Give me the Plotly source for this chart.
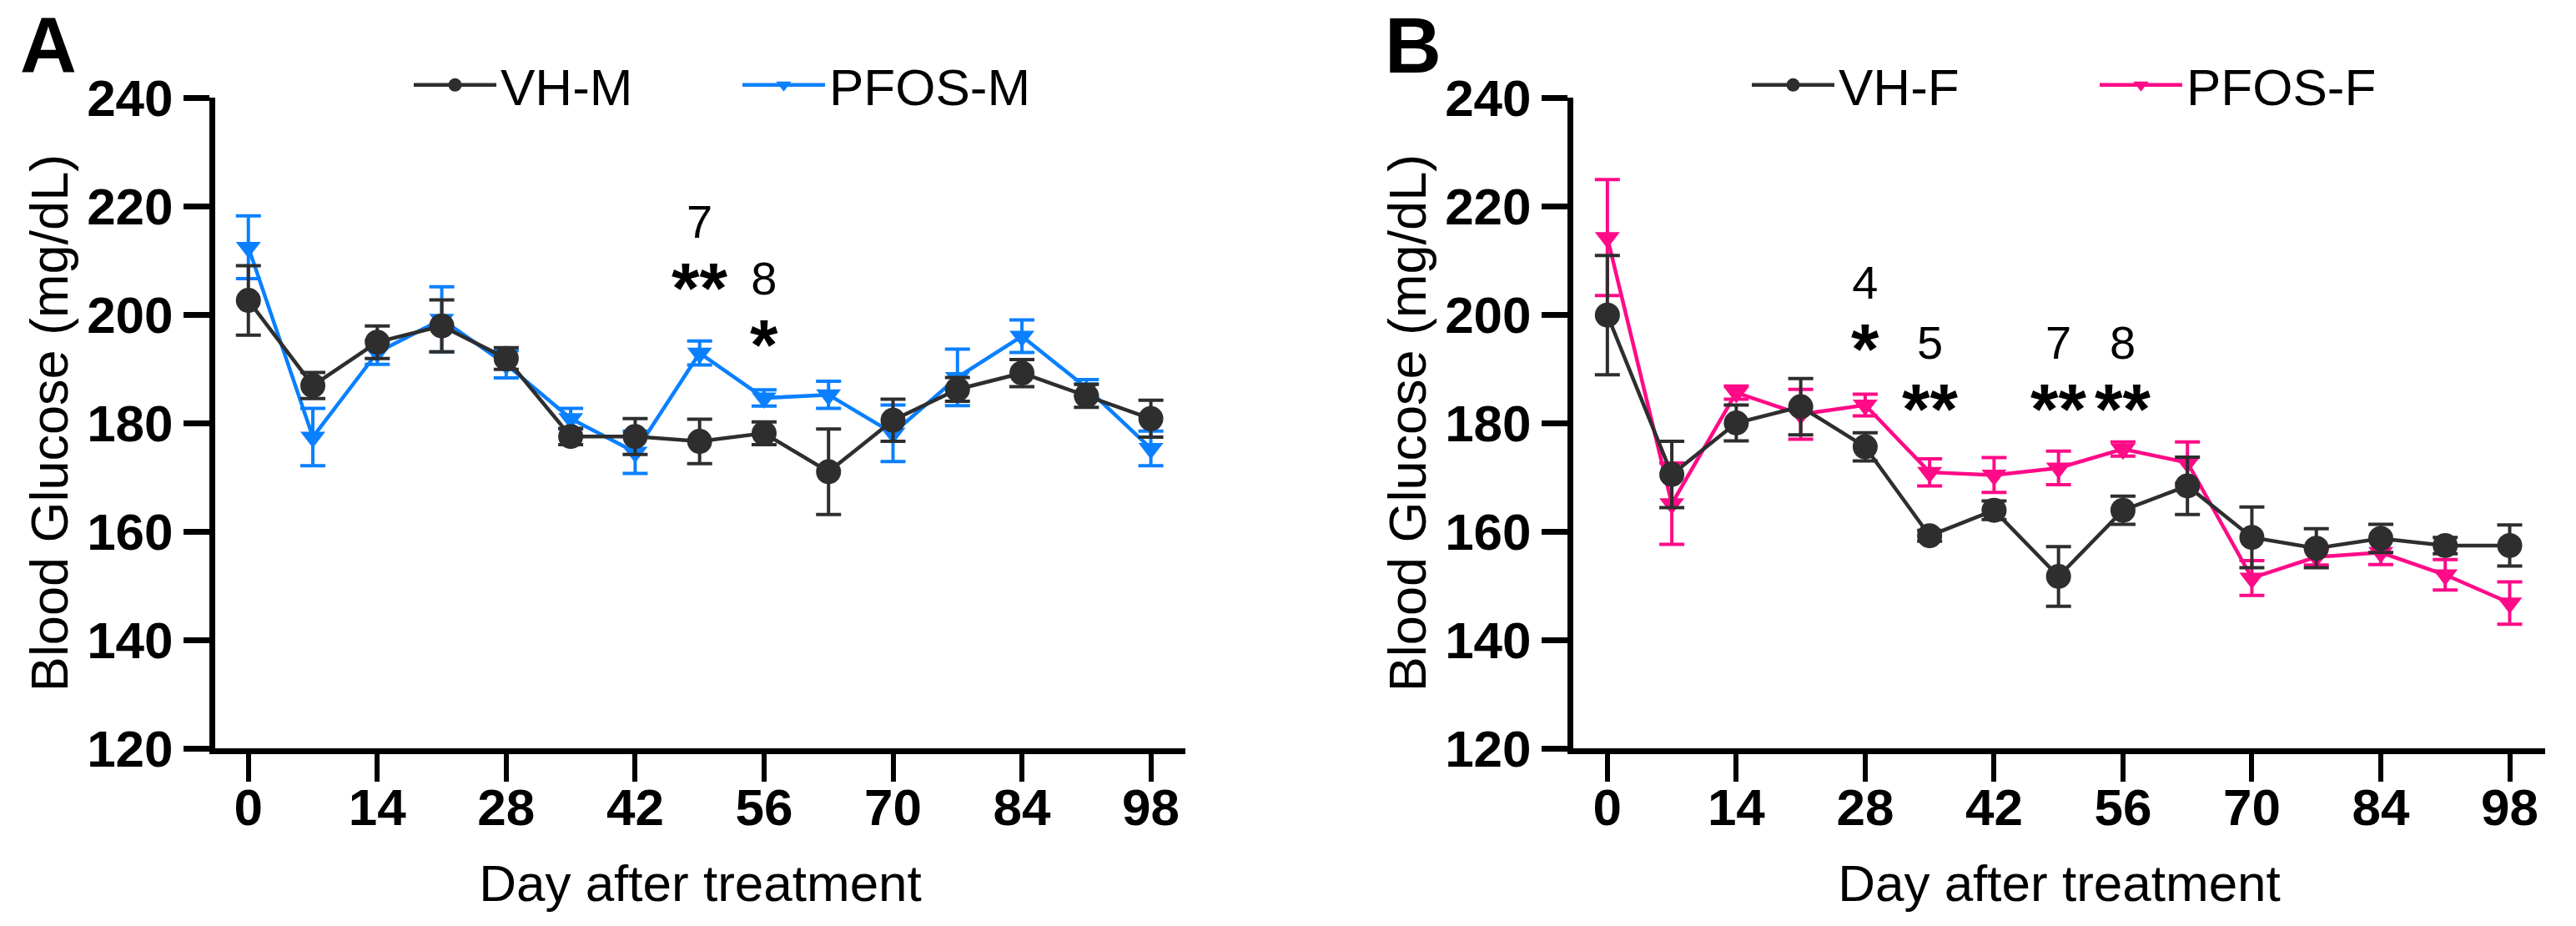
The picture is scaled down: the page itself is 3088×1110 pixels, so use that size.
import plotly.graph_objects as go

# days after treatment
days = [0, 7, 14, 21, 28, 35, 42, 49, 56, 63, 70, 77, 84, 91, 98]

# panel A: males (mean, SEM)
vh_m = [202.6, 186.9, 194.9, 197.9, 191.9, 177.5, 177.5, 176.6, 178.1, 171.0, 180.5, 186.2, 189.2, 185.0, 180.8]
vh_m_err = [6.4, 2.4, 3.0, 4.8, 2.0, 1.5, 3.3, 4.1, 2.1, 7.9, 3.9, 2.2, 2.5, 2.1, 3.4]
pfos_m = [212.4, 177.4, 193.0, 199.1, 190.8, 180.8, 174.6, 192.9, 184.6, 185.2, 178.1, 188.4, 196.0, 186.5, 175.3]
pfos_m_err = [5.8, 5.3, 2.2, 6.0, 2.5, 1.9, 3.9, 2.2, 1.5, 2.5, 5.2, 5.2, 3.0, 1.5, 3.2]

# panel B: females (mean, SEM)
vh_f = [199.9, 170.5, 180.0, 183.0, 175.6, 159.2, 163.9, 151.7, 163.9, 168.4, 158.9, 156.9, 158.7, 157.4, 157.4]
vh_f_err = [11.0, 6.1, 3.3, 5.2, 2.6, 1.0, 1.7, 5.5, 2.6, 5.3, 5.6, 3.6, 2.6, 1.5, 3.8]
pfos_f = [214.2, 165.1, 185.6, 181.6, 183.3, 170.9, 170.4, 171.7, 175.2, 172.7, 151.4, 155.3, 156.1, 152.0, 146.8]
pfos_f_err = [10.7, 7.5, 1.2, 4.6, 2.0, 2.5, 3.2, 3.1, 1.3, 3.8, 3.2, 1.5, 2.2, 2.8, 3.9]

# significance labels: week number over stars, centred at sig_y
sig_days_a = [49, 56]
sig_week_a = ["7", "8"]
sig_stars_a = ["**", "*"]
sig_y_a = [209.8, 199.3]

sig_days_b = [28, 35, 49, 56]
sig_week_b = ["4", "5", "7", "8"]
sig_stars_b = ["*", "**", "**", "**"]
sig_y_b = [198.6, 187.4, 187.4, 187.4]

x_ticks = [0, 14, 28, 42, 56, 70, 84, 98]
y_ticks = [120, 140, 160, 180, 200, 220, 240]

BLACK = "#2e2e2e"
BLUE = "#0a80ff"
PINK = "#ff0a87"
FONT = "Liberation Sans, Arial, sans-serif"

W, H = 3088, 1110
ML, MR, MT, MB = 258, 37, 117, 213
PW = W - ML - MR
PH = H - MT - MB


def px2x(p):
    return (p - ML) / PW


def py2y(p):
    return (H - MB - p) / PH


def series(x, y, err, name, color, symbol, size, xa, ya, legend, rank):
    return go.Scatter(
        x=x, y=y, name=name, mode="lines+markers",
        xaxis=xa, yaxis=ya, legend=legend, legendrank=rank,
        line=dict(color=color, width=4.5),
        marker=dict(color=color, symbol=symbol, size=size),
        error_y=dict(type="data", array=err, visible=True,
                     color=color, thickness=4, width=15),
    )


fig = go.Figure()
# coloured series first so the black ones sit on top, as in the original
fig.add_trace(series(days, pfos_m, pfos_m_err, "PFOS-M", BLUE, "triangle-down", 26, "x", "y", "legend", 2))
fig.add_trace(series(days, vh_m, vh_m_err, "VH-M", BLACK, "circle", 30, "x", "y", "legend", 1))
fig.add_trace(series(days, pfos_f, pfos_f_err, "PFOS-F", PINK, "triangle-down", 26, "x2", "y2", "legend2", 2))
fig.add_trace(series(days, vh_f, vh_f_err, "VH-F", BLACK, "circle", 30, "x2", "y2", "legend2", 1))

xa = dict(range=[-3.6, 101.75], tickvals=x_ticks, showline=True, linewidth=7,
          linecolor="black", ticks="outside", ticklen=33, tickwidth=6,
          tickcolor="black", showgrid=False, zeroline=False,
          tickfont=dict(family=FONT, size=62, color="black", weight="bold"),
          ticklabelstandoff=-22,
          title=dict(text="Day after treatment", standoff=38,
                     font=dict(family=FONT, size=62, color="black")))
ya = dict(range=[120, 240], tickvals=y_ticks, showline=True, linewidth=7,
          linecolor="black", ticks="outside", ticklen=31, tickwidth=7,
          tickcolor="black", showgrid=False, zeroline=False,
          tickfont=dict(family=FONT, size=62, color="black", weight="bold"),
          ticklabelstandoff=0,
          title=dict(text="Blood Glucose (mg/dL)", standoff=5,
                     font=dict(family=FONT, size=63, color="black")))

legend_style = dict(orientation="h", yanchor="middle", xanchor="left",
                    font=dict(family=FONT, size=62, color="black"),
                    bgcolor="rgba(0,0,0,0)", itemwidth=99,
                    entrywidthmode="pixels",
                    itemsizing="trace", traceorder="normal")

fig.update_layout(
    width=W, height=H,
    margin=dict(l=ML, r=MR, t=MT, b=MB),
    paper_bgcolor="white", plot_bgcolor="white",
    showlegend=True,
    xaxis=dict(xa, domain=[0, px2x(1421)], anchor="y"),
    yaxis=dict(ya, domain=[0, 1], anchor="x"),
    xaxis2=dict(xa, domain=[px2x(1886), 1], anchor="y2", range=[-3.7, 101.85]),
    yaxis2=dict(ya, domain=[0, 1], anchor="x2"),
    legend=dict(legend_style, x=px2x(491), y=py2y(102), entrywidth=280),
    legend2=dict(legend_style, x=px2x(2095), y=py2y(102), entrywidth=303),
)

annotations = []
for xr, yr, sd, wk, st, sy in [
    ("x", "y", sig_days_a, sig_week_a, sig_stars_a, sig_y_a),
    ("x2", "y2", sig_days_b, sig_week_b, sig_stars_b, sig_y_b),
]:
    for d, w, s, y in zip(sd, wk, st, sy):
        label = ("<span style='font-size:56px'>" + w + "</span><br>"
                 "<span style='font-size:86px'><b>" + s + "</b></span>")
        annotations.append(dict(x=d, y=y, xref=xr, yref=yr, text=label, showarrow=False,
                                font=dict(family=FONT, size=69, color="black")))

for letter, lx in [("A", 22), ("B", 1658)]:
    annotations.append(dict(x=px2x(lx), y=py2y(0), xref="paper", yref="paper",
                            xanchor="left", yanchor="top", text=letter, showarrow=False,
                            font=dict(family=FONT, size=94, color="black", weight="bold")))

fig.update_layout(annotations=annotations)

fig.write_html("out.html", config={"displayModeBar": False},
               post_script="document.body.style.margin='0';")
